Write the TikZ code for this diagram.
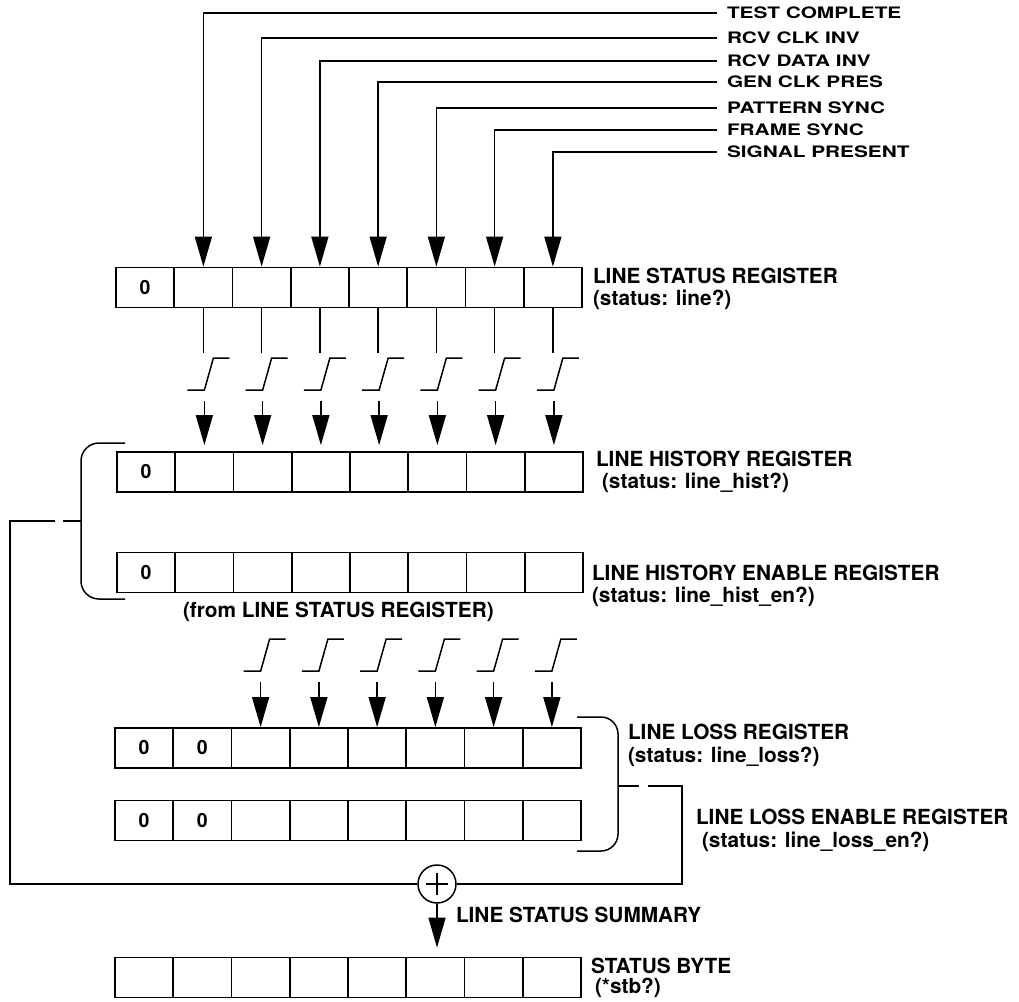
\documentclass[tikz,border=0pt]{standalone}
\usepackage{fontspec}
\setmainfont{TeX Gyre Heros}
\usepackage{graphicx}
\usetikzlibrary{arrows.meta,calc}
\begin{document}
\begin{tikzpicture}[x=1pt,y=-1pt,
  wire/.style={line width=1.5pt},
  arr/.style={wire,-{Triangle[length=30pt,width=17pt]}},
  cell/.style={draw,line width=1.8pt,minimum width=58.25pt,minimum height=40pt,inner sep=0pt,
    font=\bfseries\fontsize{19.5}{19.5}\selectfont},
  lab/.style={anchor=base west,inner sep=0pt,outer sep=0pt,font=\bfseries\fontsize{20.8}{24}\selectfont},
  toplab/.style={anchor=west,inner xsep=10pt,inner ysep=0pt,outer sep=0pt,font=\bfseries\fontsize{20.8}{24}\selectfont},
  rise/.pic={\draw[wire] (-17,0) -- (0,0) -- (9,-32) -- (25,-32);}
]
\useasboundingbox (0,0) rectangle (1019,1001);

% registers
\foreach \r/\yc/\L/\z in {1/287.5/116/1, 2/472/117/1, 3/572.5/117/1, 4/748/115/2, 5/820.5/115/2, 6/977.5/115/0}{
  \foreach \i in {1,...,8}{
    \node[cell] (r\r-\i) at ({\L+(\i-0.5)*58.25},\yc) {\ifnum\i>\z\relax\else 0\fi};
  }
}

% top inputs
\foreach \t/\yy/\c [count=\k] in {TEST COMPLETE/13/2, RCV CLK INV/38/3, RCV DATA INV/61/4,
    GEN CLK PRES/82/5, PATTERN SYNC/108/6, FRAME SYNC/130/7, SIGNAL PRESENT/152/8}{
  \node[toplab] (t\k) at (717,\yy) {\scalebox{1}[0.76]{\t}};
  \draw[arr] (t\k.west) -| (r1-\c.north);
}

% status -> history (rising edge)
\foreach \c in {2,...,8}{
  \draw[wire] (r1-\c.south) -- ([yshift=-45pt]r1-\c.south);
  \pic at ([yshift=61pt]r2-\c.north) {rise};
  \draw[arr,shorten >=6pt] ([yshift=50pt]r2-\c.north) -- (r2-\c.north);
}

% loss register (rising edge)
\foreach \c in {3,...,8}{
  \pic at ([yshift=56pt]r4-\c.north) {rise};
  \draw[arr] ([yshift=45pt]r4-\c.north) -- (r4-\c.north);
}

% braces
\draw[wire,rounded corners=18pt] (125,443) -- (81,443) -- (81,599) -- (125,599);
\draw[wire] (81,521) -- (63,521);
\draw[wire,rounded corners=17pt] (577,717) -- (618,717) -- (618,851) -- (577,851);
\draw[wire] (618,786) -- (639,786);

% summary
\node[draw,circle,line width=1.5pt,minimum size=38pt,inner sep=0pt] (sum) at (437,884) {};
\draw[wire] ([xshift=-11pt]sum.center) -- ([xshift=11pt]sum.center);
\draw[wire] ([yshift=11pt]sum.center) -- ([yshift=-11pt]sum.center);
\coordinate (lfb) at (55,521);
\coordinate (rfb) at (648,786);
\draw[wire] (lfb) -- (10,521) |- (sum.west);
\draw[wire] (sum.east) -| (682,786) -- (rfb);
\draw[arr,shorten >=9pt] (sum.south) -- (sum.south |- r6-6.north);

% labels
\node[lab] (l1a) at (593,283) {LINE STATUS REGISTER};
\node[lab] (l1b) at (593,305) {(status: line?)};
\node[lab] (l2a) at (596,466) {LINE HISTORY REGISTER};
\node[lab] (l2b) at (602,488) {(status: line\_hist?)};
\node[lab] (l3a) at (592,580) {LINE HISTORY ENABLE REGISTER};
\node[lab] (l3b) at (592,602) {(status: line\_hist\_en?)};
\node[lab] (from) at (183,617) {(from LINE STATUS REGISTER)};
\node[lab] (l4a) at (628,739) {LINE LOSS REGISTER};
\node[lab] (l4b) at (628,762) {(status: line\_loss?)};
\node[lab] (l5a) at (696,824) {LINE LOSS ENABLE REGISTER};
\node[lab] (l5b) at (702,847) {(status: line\_loss\_en?)};
\node[lab] (lss) at (456,922) {LINE STATUS SUMMARY};
\node[lab] (l6a) at (591,973) {STATUS BYTE};
\node[lab] (l6b) at (595,993) {(*stb?)};
\end{tikzpicture}
\end{document}
